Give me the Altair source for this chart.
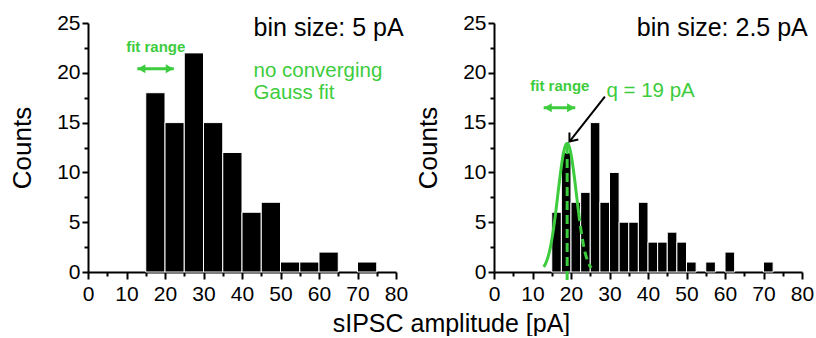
import altair as alt
import pandas as pd

GREEN = "#3dcc3d"
FONT = "Liberation Sans"

# ---- data ----
bin5_start = [15, 20, 25, 30, 35, 40, 45, 50, 55, 60, 65, 70]
bin5_count = [18, 15, 22, 15, 12, 6, 7, 1, 1, 2, 0, 1]
bin25_start = [15, 17.5, 20, 22.5, 25, 27.5, 30, 32.5, 35, 37.5, 40, 42.5,
               45, 47.5, 50, 52.5, 55, 57.5, 60, 62.5, 65, 67.5, 70, 72.5]
bin25_count = [6, 12, 7, 8, 15, 7, 10, 5, 5, 7, 3, 3,
               4, 3, 1, 0, 1, 0, 2, 0, 0, 0, 1, 0]

x_ticks = [0, 5, 10, 15, 20, 25, 30, 35, 40, 45, 50, 55, 60, 65, 70, 75, 80]
y_ticks = [0, 2.5, 5, 7.5, 10, 12.5, 15, 17.5, 20, 22.5, 25]

# Gauss fit (right panel)
gauss_amp = 12.9
gauss_mean = 19.0
gauss_sd = 2.4
fit_solid_range = [12.9, 22.0]
fit_dash_range = [22.0, 25.3]
q_line = {"x": [19.0], "x2": [19.0], "y": [-0.8], "y2": [12.9]}

# fit range arrows (x from, x to, y)
left_fit_arrow = {"x": [12.8], "x2": [22.3], "y": [20.4], "y2": [20.4]}
right_fit_arrow = {"x": [12.9], "x2": [21.1], "y": [16.5], "y2": [16.5]}
black_arrow = {"x": [28.8], "x2": [19.6], "y": [17.6], "y2": [13.1]}

# ---- helpers ----
W, H = 308, 249


def x_enc(title=None, title_x=None):
    kw = {}
    if title:
        kw = dict(title=title, titleX=title_x, titleY=59, titleAlign="center",
                  titleBaseline="alphabetic", titleFontSize=25,
                  titleFont=FONT, titleFontWeight="normal", titleColor="black")
    else:
        kw = dict(title=None)
    return alt.X("x:Q", scale=alt.Scale(domain=[0, 80], nice=False, zero=False),
                 axis=alt.Axis(values=x_ticks,
                               labelExpr="datum.value % 10 === 0 ? datum.label : ''",
                               tickSize={"condition": {"test": "datum.value % 10 === 0", "value": 7}, "value": 4},
                               labelPadding=4, labelFlush=False, **kw))


def y_enc():
    return alt.Y("y:Q", scale=alt.Scale(domain=[0, 25], nice=False),
                 axis=alt.Axis(values=y_ticks,
                               labelExpr="datum.value % 5 === 0 ? datum.label : ''",
                               tickSize={"condition": {"test": "datum.value % 5 === 0", "value": 6}, "value": 4},
                               labelPadding=2, labelFlush=False,
                               title="Counts", titleX=-66, titleBaseline="middle",
                               titleFontSize=26, titleFont=FONT,
                               titleFontWeight="normal", titleColor="black"))


def bars(starts, counts, width, xe):
    df = pd.DataFrame({"x": starts, "y": counts})
    return alt.Chart(df).transform_filter("datum.y > 0").transform_calculate(
        x2=f"datum.x + {width}", y0="0"
    ).mark_bar(color="black", stroke="white", strokeWidth=1).encode(
        x=xe, x2="x2:Q", y=y_enc(), y2="y0:Q"
    )


def rule(d, xe, color, width, dash=None):
    kw = dict(color=color, strokeWidth=width)
    if dash:
        kw["strokeDash"] = dash
    return alt.Chart(pd.DataFrame(d)).mark_rule(**kw).encode(
        x=xe, x2="x2:Q", y=y_enc(), y2="y2:Q")


def double_arrow(d, xe):
    line = rule(d, xe, GREEN, 3)
    heads = pd.DataFrame({
        "x": [d["x"][0] + 1.1, d["x2"][0] - 1.1],
        "y": [d["y"][0], d["y"][0]],
        "s": ["triangle-left", "triangle-right"],
    })
    h = alt.Chart(heads).mark_point(filled=True, color=GREEN, opacity=1, size=80).encode(
        x=xe, y=y_enc(),
        shape=alt.Shape("s:N", scale=alt.Scale(domain=["triangle-left", "triangle-right"],
                                               range=["triangle-left", "triangle-right"]),
                        legend=None))
    return line + h


def text(xv, yv, txt, xe, size, color="black", align="left", baseline="alphabetic",
         weight="normal", line_height=None):
    kw = dict(align=align, baseline=baseline, font=FONT, fontSize=size,
              color=color, fontWeight=weight)
    if line_height:
        kw["lineHeight"] = line_height
    df = pd.DataFrame({"x": [xv], "y": [yv], "t": [txt]})
    return alt.Chart(df).mark_text(**kw).encode(x=xe, y=y_enc(), text="t")


# ---- left panel ----
xl = x_enc("sIPSC amplitude [pA]", 363)
left = alt.layer(
    bars(bin5_start, bin5_count, 5, xl),
    double_arrow(left_fit_arrow, xl),
    text(17.6, 22.1, "fit range", xl, 15, GREEN, "center", weight="bold"),
    text(82, 24.5, "bin size: 5 pA", xl, 25, "black", "right", "middle"),
    text(43.0, 19.6, ["no converging", "Gauss fit"], xl, 20.5, GREEN, "left", line_height=22),
).properties(width=W, height=H)

# ---- right panel ----
xr = x_enc()
gauss_expr = f"{gauss_amp} * exp(-pow(datum.x - {gauss_mean}, 2) / (2 * {gauss_sd} * {gauss_sd}))"
g_solid = alt.Chart(alt.sequence(fit_solid_range[0], fit_solid_range[1] + 0.01, 0.05, as_="x")
                    ).transform_calculate(y=gauss_expr).mark_line(
    color=GREEN, strokeWidth=3).encode(x=xr, y=y_enc())
g_dash = alt.Chart(alt.sequence(fit_dash_range[0], fit_dash_range[1] + 0.01, 0.05, as_="x")
                   ).transform_calculate(y=gauss_expr).mark_line(
    color=GREEN, strokeWidth=3, strokeDash=[8, 5]).encode(x=xr, y=y_enc())

arrow_head = alt.Chart(pd.DataFrame({"x": black_arrow["x2"], "y": black_arrow["y2"]})).mark_point(
    shape="M -1 -0.8 L 0 0 L -1 0.8", filled=False, stroke="black", strokeWidth=2,
    size=200, angle=128.6, opacity=1).encode(x=xr, y=y_enc())

right = alt.layer(
    bars(bin25_start, bin25_count, 2.5, xr),
    rule(q_line, xr, GREEN, 3, [9, 5]),
    g_solid,
    g_dash,
    double_arrow(right_fit_arrow, xr),
    text(17.1, 18.2, "fit range", xr, 15, GREEN, "center", weight="bold"),
    rule(black_arrow, xr, "black", 2),
    arrow_head,
    text(29.2, 17.6, "q = 19 pA", xr, 20.5, GREEN, "left"),
    text(81.5, 24.5, "bin size: 2.5 pA", xr, 25, "black", "right", "middle"),
).properties(width=W, height=H)

chart = alt.hconcat(left, right, spacing=98, bounds="flush").properties(
    padding={"left": 9, "top": 12, "right": 0, "bottom": 0}
).configure_view(stroke=None).configure_axis(
    domainColor="black", domainWidth=2, tickColor="black", tickWidth=2,
    labelColor="black", labelFont=FONT, labelFontSize=21, grid=False, zindex=1
)

chart.save("out.html", embed_options={"renderer": "svg", "actions": False})
